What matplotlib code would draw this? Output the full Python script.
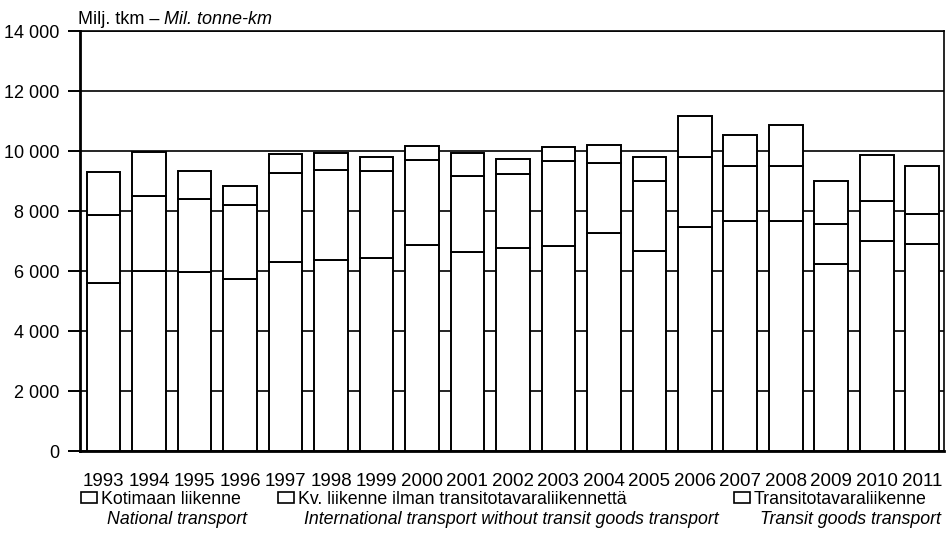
"""Rail freight tonne-km by traffic type, 1993-2011 (stacked bars)."""

import matplotlib
matplotlib.use("Agg")
import matplotlib.pyplot as plt
from matplotlib.patches import Rectangle
from matplotlib.ticker import FuncFormatter, MultipleLocator

plt.rcParams["font.family"] = ["Liberation Sans", "DejaVu Sans"]

years = [str(y) for y in range(1993, 2012)]
national = [5600, 6010, 5960, 5730, 6290, 6360, 6440, 6870, 6640, 6760,
            6830, 7280, 6680, 7460, 7660, 7680, 6230, 7010, 6900]
international = [2270, 2490, 2440, 2480, 2970, 3000, 2890, 2820, 2520, 2480,
                 2840, 2310, 2320, 2350, 1840, 1810, 1340, 1310, 990]
transit = [1420, 1480, 930, 630, 650, 580, 480, 490, 770, 490,
           470, 610, 790, 1360, 1030, 1390, 1420, 1540, 1620]

legend_fi = ["Kotimaan liikenne",
             "Kv. liikenne ilman transitotavaraliikennettä",
             "Transitotavaraliikenne"]
legend_en = ["National transport",
             "International transport without transit goods transport",
             "Transit goods transport"]

W, H = 947, 553
fig = plt.figure(figsize=(W / 100, H / 100), dpi=100)
ax = fig.add_axes([80 / W, 102 / H, 864 / W, 420 / H])

x = range(len(years))
bottom2 = [a + b for a, b in zip(national, international)]
style = dict(width=0.74, color="white", edgecolor="black", linewidth=1.4, zorder=3)
ax.bar(x, national, **style)
ax.bar(x, international, bottom=national, **style)
ax.bar(x, transit, bottom=bottom2, **style)

ax.set_xlim(-0.52, 18.48)
ax.set_ylim(0, 14000)
ax.yaxis.set_major_locator(MultipleLocator(2000))
ax.yaxis.set_major_formatter(FuncFormatter(lambda v, _: f"{v:,.0f}".replace(",", " ")))
ax.grid(axis="y", color="black", linewidth=1.2, zorder=0)
ax.set_axisbelow(True)

ax.set_xticks(list(x))
ax.set_xticklabels(years, fontsize=13.5)
ax.tick_params(axis="x", length=0, pad=15.5)
ax.tick_params(axis="y", length=8.5, width=1.4, pad=6, labelsize=13, direction="out")

for side in ["left", "bottom"]:
    ax.spines[side].set_linewidth(2)
ax.spines["right"].set_linewidth(1.2)
ax.spines["top"].set_linewidth(1.2)

# unit label: regular + italic part
t1 = fig.text(78 / W, 1 - 24 / H, "Milj. tkm – ", fontsize=13, va="baseline")
ax.annotate("Mil. tonne-km", xy=(1, 0), xycoords=t1, va="bottom",
            fontsize=13, style="italic")

# legend below the chart
box_x = [81, 278, 734]
for bx, fi, en in zip(box_x, legend_fi, legend_en):
    fig.patches.append(Rectangle((bx / W, 1 - 503 / H), 16 / W, 11 / H,
                                 transform=fig.transFigure, facecolor="white",
                                 edgecolor="black", linewidth=1.2))
    fig.text((bx + 20) / W, 1 - 504 / H, fi, fontsize=12.8, va="baseline")
    fig.text((bx + 26) / W, 1 - 524 / H, en, fontsize=12.8, va="baseline",
             style="italic")

fig.savefig("out.png", dpi=100)
